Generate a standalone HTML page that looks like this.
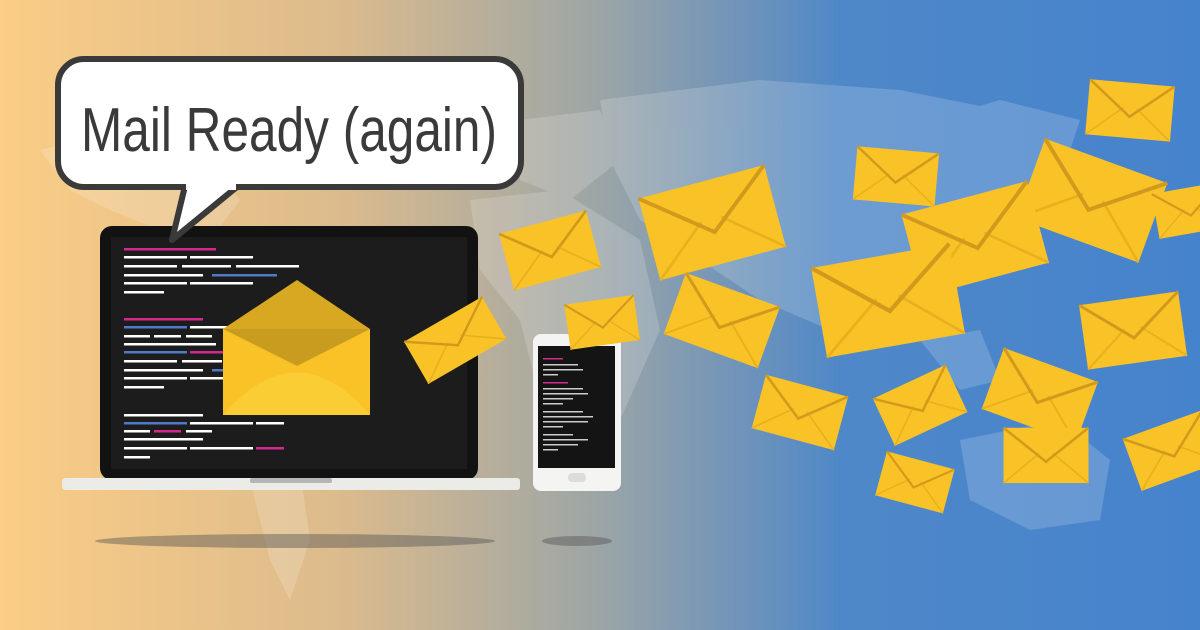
<!DOCTYPE html>
<html><head><meta charset="utf-8"><style>
html,body{margin:0;padding:0;width:1200px;height:630px;overflow:hidden}
svg{display:block}
</style></head><body>
<svg width="1200" height="630" viewBox="0 0 1200 630" xmlns="http://www.w3.org/2000/svg">
<defs>
<linearGradient id="bg" x1="0" y1="0" x2="1" y2="0">
<stop offset="0" stop-color="#fbcd86"/>
<stop offset="0.28" stop-color="#dcbb8c"/>
<stop offset="0.5" stop-color="#9ca5a6"/>
<stop offset="0.7" stop-color="#4f88c8"/>
<stop offset="1" stop-color="#4683cd"/>
</linearGradient>
<g id="env">
<rect x="0" y="0" width="100" height="65" fill="#f9c227"/>
<path d="M0 65 L42 30 M100 65 L58 30" stroke="#e9b01e" stroke-width="2" fill="none"/>
<path d="M0 0 L50 40 L100 0" stroke="#d19a1c" stroke-width="3" fill="none"/>
</g>
</defs>
<rect width="1200" height="630" fill="url(#bg)"/>
<g fill="#ffffff" opacity="0.17">
<path d="M40 150 L120 130 L200 150 L240 200 L210 240 L160 230 L110 210 L70 190 Z"/>
<path d="M250 480 L300 470 L310 540 L290 600 L270 560 Z"/>
<path d="M520 120 L600 110 L620 160 L570 200 L520 180 Z"/>
<path d="M470 200 L560 190 L640 240 L660 330 L620 420 L580 450 L540 400 L520 320 L480 270 Z"/>
<path d="M600 100 L760 80 L900 90 L1000 110 L1060 150 L1040 220 L980 280 L900 300 L830 330 L760 300 L700 260 L640 220 L610 160 Z"/>
<path d="M900 130 L1000 100 L1080 120 L1060 180 L980 170 Z"/>
<path d="M920 340 L980 330 L1000 380 L960 390 Z"/>
<path d="M960 440 L1060 420 L1110 460 L1100 520 L1030 530 L970 500 Z"/>
</g>
<ellipse cx="295" cy="541" rx="200" ry="7" fill="#555" opacity="0.45"/>
<ellipse cx="577" cy="541" rx="35" ry="5" fill="#555" opacity="0.45"/>
<rect x="100" y="226" width="378" height="254" rx="12" fill="#121212"/>
<rect x="111" y="237" width="356" height="232" fill="#1c1c1c"/>
<rect x="62" y="478" width="458" height="12" rx="3" fill="#ebebe7"/>
<rect x="250" y="478" width="82" height="5" rx="2" fill="#b5b5b5"/>
<g fill="#ffffff">
<rect x="124" y="256" width="63" height="2.5"/><rect x="190" y="256" width="63" height="2.5"/>
<rect x="124" y="265" width="53" height="2.5"/><rect x="182" y="265" width="49" height="2.5"/><rect x="236" y="265" width="63" height="2.5"/>
<rect x="124" y="274" width="79" height="2.5"/>
<rect x="124" y="282" width="63" height="2.5"/><rect x="190" y="282" width="63" height="2.5"/>
<rect x="124" y="291" width="40" height="2.5"/>
<rect x="190" y="326" width="40" height="2.5"/>
<rect x="124" y="335" width="26" height="2.5"/><rect x="154" y="335" width="27" height="2.5"/><rect x="186" y="335" width="26" height="2.5"/>
<rect x="124" y="343" width="92" height="2.5"/>
<rect x="124" y="360" width="53" height="2.5"/><rect x="182" y="360" width="40" height="2.5"/>
<rect x="124" y="369" width="79" height="2.5"/>
<rect x="124" y="377" width="63" height="2.5"/><rect x="190" y="377" width="40" height="2.5"/>
<rect x="124" y="386" width="40" height="2.5"/>
<rect x="124" y="414" width="79" height="2.5"/>
<rect x="190" y="422" width="63" height="2.5"/><rect x="256" y="422" width="28" height="2.5"/>
<rect x="124" y="430" width="26" height="2.5"/><rect x="186" y="430" width="26" height="2.5"/>
<rect x="124" y="438" width="79" height="2.5"/>
<rect x="124" y="447" width="63" height="2.5"/><rect x="190" y="447" width="63" height="2.5"/>
<rect x="124" y="456" width="26" height="2.5"/>
</g>
<g fill="#d5288f">
<rect x="124" y="248" width="92" height="2.5"/><rect x="124" y="318" width="79" height="2.5"/>
<rect x="190" y="351" width="40" height="2.5"/><rect x="154" y="430" width="27" height="2.5"/><rect x="256" y="447" width="28" height="2.5"/>
</g>
<g fill="#5079c8">
<rect x="212" y="274" width="65" height="2.5"/><rect x="124" y="326" width="63" height="2.5"/>
<rect x="124" y="351" width="63" height="2.5"/><rect x="212" y="369" width="20" height="2.5"/><rect x="124" y="422" width="63" height="2.5"/>
</g>
<path d="M223 329 L297 280 L370 329 Z" fill="#d8a823"/>
<rect x="223" y="329" width="147" height="86" fill="#f9c227"/>
<path d="M223 329 L297 366 L370 329 Z" fill="#c99c1f"/>
<path d="M223 415 Q297 330 370 415 Z" fill="#fbcd34"/>
<path d="M185 186 L172 240 L238 186 Z" fill="#fff" stroke="#3a3a3a" stroke-width="6" stroke-linejoin="round"/>
<rect x="58" y="59" width="463" height="128" rx="26" fill="#fff" stroke="#3a3a3a" stroke-width="6"/>
<rect x="186" y="180" width="50" height="10" fill="#fff"/>
<text x="81" y="151" font-family="'Liberation Sans Narrow','Liberation Sans',sans-serif" font-size="62" fill="#3a3a3a" textLength="416" lengthAdjust="spacingAndGlyphs">Mail Ready (again)</text>
<rect x="533" y="334" width="88" height="157" rx="8" fill="#f4f4f2"/>
<rect x="538" y="346" width="77" height="122" fill="#141414"/>
<rect x="568" y="473" width="18" height="9" rx="4" fill="#dcdcdc"/>
<g fill="#ccc">
<rect x="543" y="358" width="20" height="1.5" fill="#d5288f"/><rect x="543" y="364" width="35" height="1.5"/><rect x="543" y="369" width="40" height="1.5"/><rect x="543" y="374" width="15" height="1.5"/>
<rect x="543" y="382" width="25" height="1.5" fill="#d5288f"/><rect x="543" y="388" width="40" height="1.5"/><rect x="543" y="393" width="45" height="1.5"/><rect x="543" y="398" width="30" height="1.5"/><rect x="543" y="403" width="20" height="1.5"/>
<rect x="543" y="411" width="40" height="1.5"/><rect x="543" y="416" width="50" height="1.5"/><rect x="543" y="421" width="45" height="1.5"/><rect x="543" y="426" width="20" height="1.5"/>
<rect x="543" y="434" width="30" height="1.5"/><rect x="543" y="439" width="45" height="1.5"/><rect x="543" y="444" width="35" height="1.5"/><rect x="543" y="449" width="15" height="1.5"/>
</g>
<use href="#env" transform="translate(550 250) rotate(-15) scale(0.9) translate(-50 -32)"/>
<use href="#env" transform="translate(712 222) rotate(-15) scale(1.3) translate(-50 -32)"/>
<use href="#env" transform="translate(455 340) rotate(-30) scale(0.9 0.75) translate(-50 -32)"/>
<use href="#env" transform="translate(602 322) rotate(-8) scale(0.7) translate(-50 -32)"/>
<use href="#env" transform="translate(722 320) rotate(20) scale(1.0) translate(-50 -32)"/>
<use href="#env" transform="translate(896 176) rotate(5) scale(0.82) translate(-50 -32)"/>
<use href="#env" transform="translate(1130 110) rotate(5) scale(0.85) translate(-50 -32)"/>
<use href="#env" transform="translate(1092 200) rotate(20) scale(1.3) translate(-50 -32)"/>
<use href="#env" transform="translate(975 238) rotate(-15) scale(1.3) translate(-50 -32)"/>
<use href="#env" transform="translate(888 300) rotate(-10) scale(1.4) translate(-50 -32)"/>
<use href="#env" transform="translate(1190 210) rotate(-10) scale(0.7) translate(-50 -32)"/>
<use href="#env" transform="translate(1133 330) rotate(-8) scale(1.0) translate(-50 -32)"/>
<use href="#env" transform="translate(800 412) rotate(15) scale(0.85) translate(-50 -32)"/>
<use href="#env" transform="translate(920 405) rotate(-25) scale(0.8) translate(-50 -32)"/>
<use href="#env" transform="translate(1040 395) rotate(20) scale(1.0) translate(-50 -32)"/>
<use href="#env" transform="translate(1046 455) rotate(0) scale(0.85) translate(-50 -32)"/>
<use href="#env" transform="translate(915 482) rotate(15) scale(0.7) translate(-50 -32)"/>
<use href="#env" transform="translate(1172 450) rotate(-20) scale(0.85) translate(-50 -32)"/>
</svg>
</body></html>
